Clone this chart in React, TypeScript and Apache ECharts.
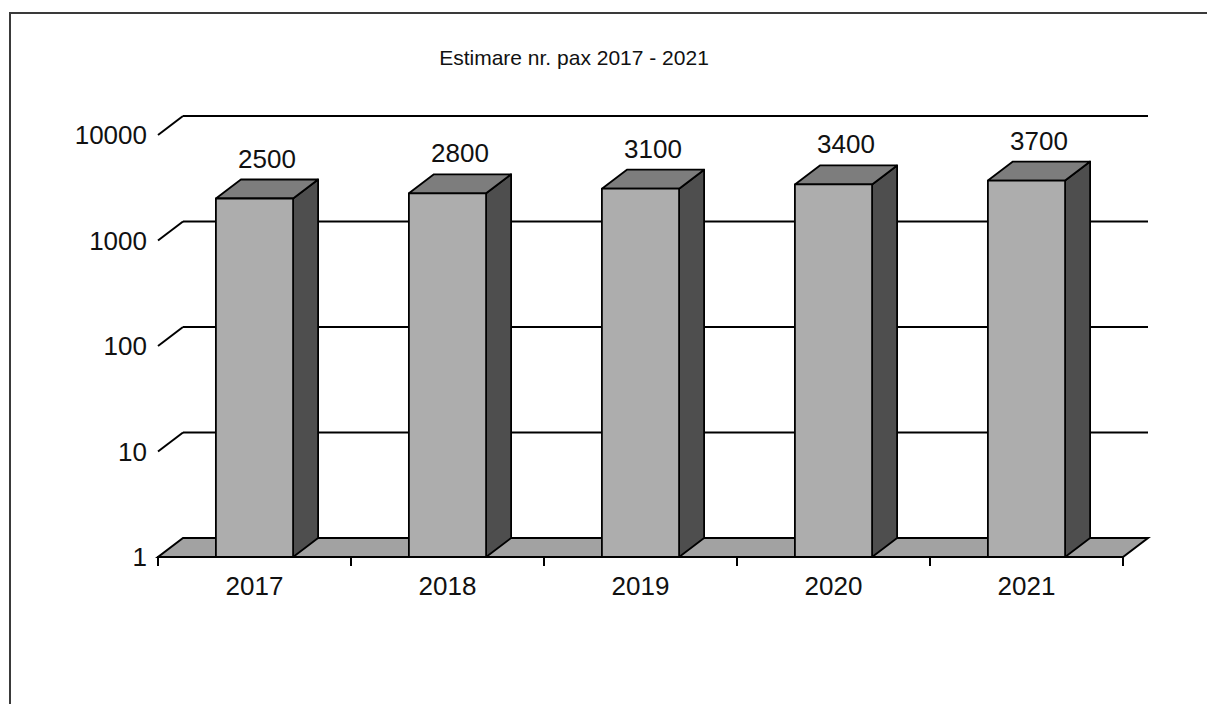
import React, { useEffect, useRef } from "react";
import * as echarts from "echarts";

const title = "Estimare nr. pax 2017 - 2021";
const categories = ["2017", "2018", "2019", "2020", "2021"];
const values = [2500, 2800, 3100, 3400, 3700];
const yTicks = [1, 10, 100, 1000, 10000];

const FONT = '"Liberation Sans", Arial, sans-serif';
const DX = 25;
const DY = 19;

export default function App() {
  const ref = useRef<HTMLDivElement>(null);

  useEffect(() => {
    document.body.style.margin = "0";
    if (!ref.current) return;
    const chart = echarts.init(ref.current, null, { renderer: "svg" });

    const option: any = {
      animation: false,
      backgroundColor: "#ffffff",
      graphic: [
        {
          type: "polyline",
          shape: { points: [[10, 720], [10, 13], [1230, 13]] },
          style: { stroke: "#3a3a3a", lineWidth: 2, fill: "none" },
          z: 0,
        },
        {
          type: "text",
          style: {
            text: title,
            x: 574,
            y: 57,
            align: "center",
            verticalAlign: "middle",
            fontSize: 21,
            fontFamily: FONT,
            fill: "#111",
          },
        },
      ],
      grid: { left: 158, right: 84, top: 135, bottom: 147, containLabel: false },
      xAxis: {
        type: "category",
        data: categories,
        boundaryGap: true,
        axisLine: { show: true, lineStyle: { color: "#000", width: 2 } },
        axisTick: { show: true, length: 9, lineStyle: { color: "#000", width: 2 } },
        axisLabel: { fontSize: 26, fontFamily: FONT, color: "#111", margin: 16 },
        splitLine: { show: false },
        z: 5,
      },
      yAxis: {
        type: "log",
        logBase: 10,
        min: 1,
        max: 10000,
        axisLine: { show: false },
        axisTick: { show: false },
        splitLine: { show: false },
        axisLabel: {
          fontSize: 26,
          fontFamily: FONT,
          color: "#111",
          margin: 11,
          formatter: (v: number) => String(Math.round(v)),
        },
      },
      series: [
        {
          type: "custom",
          name: "grid",
          z: 1,
          clip: false,
          silent: true,
          data: yTicks.map((t) => [0, t]),
          renderItem: (params: any, api: any) => {
            const cs = params.coordSys;
            const v = api.value(1);
            const y = api.coord([0, v])[1];
            const xl = cs.x;
            const xr = cs.x + cs.width;
            if (v === 1) {
              return {
                type: "polygon",
                shape: {
                  points: [
                    [xl, y],
                    [xr, y],
                    [xr + DX, y - DY],
                    [xl + DX, y - DY],
                  ],
                },
                style: { fill: "#a2a2a2", stroke: "#000", lineWidth: 2 },
              };
            }
            return {
              type: "group",
              children: [
                {
                  type: "line",
                  shape: { x1: xl, y1: y, x2: xl + DX, y2: y - DY },
                  style: { stroke: "#000", lineWidth: 2 },
                },
                {
                  type: "line",
                  shape: { x1: xl + DX, y1: y - DY, x2: xr + DX, y2: y - DY },
                  style: { stroke: "#000", lineWidth: 2 },
                },
              ],
            };
          },
        },
        {
          type: "custom",
          name: "Estimare",
          z: 2,
          clip: false,
          data: values.map((v, i) => [i, v]),
          renderItem: (params: any, api: any) => {
            const cs = params.coordSys;
            const band = cs.width / categories.length;
            const bw = band * 0.4;
            const p = api.coord([api.value(0), api.value(1)]);
            const base = api.coord([api.value(0), 1]);
            const x0 = p[0] - bw / 2;
            const x1 = x0 + bw;
            const yt = p[1];
            const yb = base[1];
            const stroke = { stroke: "#000", lineWidth: 1.8, lineJoin: "round" };
            return {
              type: "group",
              children: [
                {
                  type: "polygon",
                  shape: {
                    points: [
                      [x1, yt],
                      [x1 + DX, yt - DY],
                      [x1 + DX, yb - DY],
                      [x1, yb],
                    ],
                  },
                  style: { fill: "#4e4e4e", ...stroke },
                },
                {
                  type: "polygon",
                  shape: {
                    points: [
                      [x0, yt],
                      [x0 + DX, yt - DY],
                      [x1 + DX, yt - DY],
                      [x1, yt],
                    ],
                  },
                  style: { fill: "#7d7d7d", ...stroke },
                },
                {
                  type: "rect",
                  shape: { x: x0, y: yt, width: bw, height: yb - yt },
                  style: { fill: "#adadad", ...stroke },
                },
                {
                  type: "text",
                  style: {
                    text: String(api.value(1)),
                    x: (x0 + x1 + DX) / 2,
                    y: yt - DY - 21,
                    align: "center",
                    verticalAlign: "middle",
                    fontSize: 26,
                    fontFamily: FONT,
                    fill: "#111",
                  },
                },
              ],
            };
          },
        },
      ],
    };

    chart.setOption(option);
    return () => chart.dispose();
  }, []);

  return <div ref={ref} style={{ width: 1207, height: 704 }} />;
}
